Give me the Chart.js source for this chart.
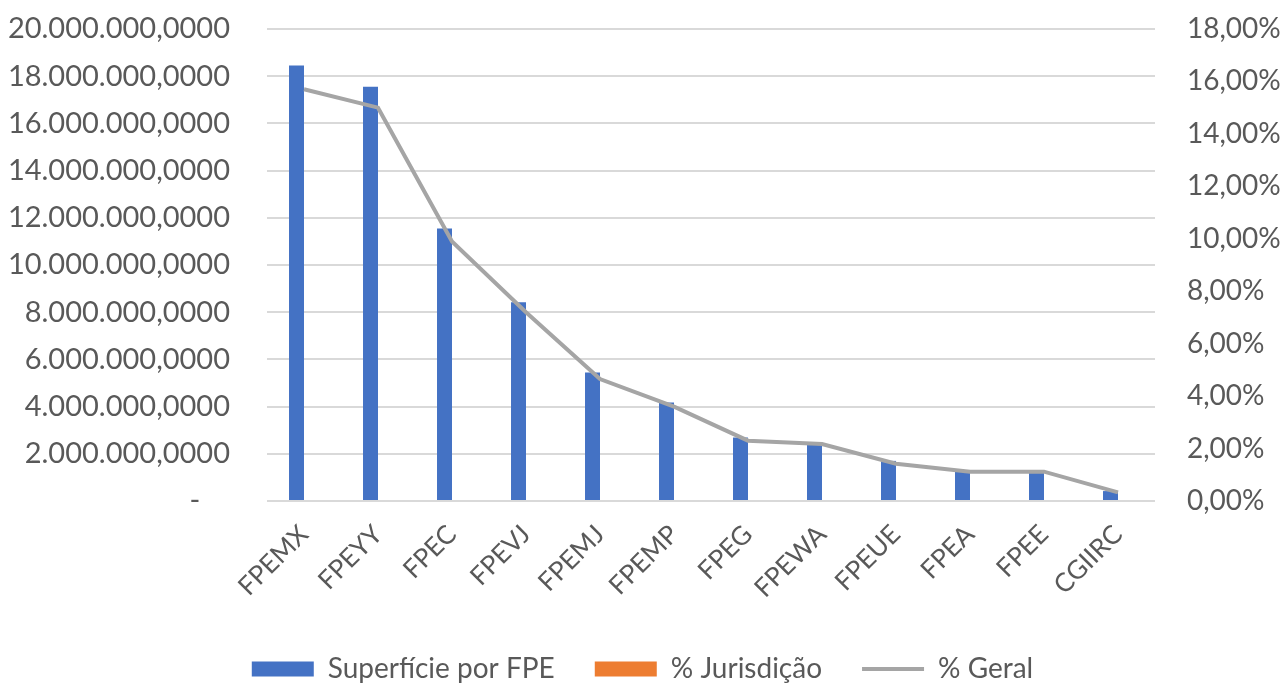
<!DOCTYPE html>
<html>
<head>
<meta charset="utf-8">
<script src="https://cdn.jsdelivr.net/npm/chart.js@4/dist/chart.umd.min.js"></script>
<style>
  html, body { margin: 0; padding: 0; background: #fff; }
  #wrap { width: 1285px; height: 684px; position: relative; }
</style>
</head>
<body>
<div id="wrap"><canvas id="barChart"></canvas></div>
<script>
const categories = ["FPEMX", "FPEYY", "FPEC", "FPEVJ", "FPEMJ", "FPEMP", "FPEG", "FPEWA", "FPEUE", "FPEA", "FPEE", "CGIIRC"];
const superficie = [18450000, 17550000, 11550000, 8420000, 5450000, 4170000, 2690000, 2420000, 1700000, 1300000, 1280000, 420000];
const jurisdicao = [0, 0, 0, 0, 0, 0, 0, 0, 0, 0, 0, 0];
const geral = [15.7, 15.0, 9.9, 7.2, 4.65, 3.6, 2.3, 2.17, 1.42, 1.12, 1.12, 0.33];
const leftTicks = [0, 2000000, 4000000, 6000000, 8000000, 10000000, 12000000, 14000000, 16000000, 18000000, 20000000];
const rightTicks = [0, 2, 4, 6, 8, 10, 12, 14, 16, 18];

const tickColor = "#595959";
const gridColor = "#d9d9d9";

function fmtLeft(v) {
  if (v === 0) return "-    ";
  return Math.round(v).toString().replace(/\B(?=(\d{3})+(?!\d))/g, ".") + ",0000";
}
function fmtRight(v) {
  return v.toFixed(2).replace(".", ",") + "%";
}

// the tick padding would otherwise also push the plot down from the top
function fixY(width) {
  return (scale) => {
    scale.width = width;
    scale.paddingTop = 0;
    scale.paddingBottom = 0;
  };
}

let ctx = document.getElementById("barChart");

let barChart = new Chart(ctx, {
  type: "bar",
  data: {
    labels: categories,
    datasets: [
      {
        label: "Superfície por FPE",
        data: superficie,
        backgroundColor: "#4472c4",
        borderWidth: 0,
        yAxisID: "y",
        order: 1,
        pointStyle: "rect",
      },
      {
        label: "% Jurisdição",
        data: jurisdicao,
        backgroundColor: "#ed7d31",
        borderWidth: 0,
        yAxisID: "y",
        order: 1,
        pointStyle: "rect",
      },
      {
        type: "line",
        label: "% Geral",
        data: geral,
        borderColor: "#a5a5a5",
        backgroundColor: "#a5a5a5",
        borderWidth: 4,
        pointRadius: 0,
        tension: 0,
        yAxisID: "y1",
        order: 0,
        pointStyle: "line",
      },
    ],
  },
  options: {
    responsive: true,
    maintainAspectRatio: false,
    animation: false,
    categoryPercentage: 0.405,
    barPercentage: 1,
    layout: {
      padding: { top: 29, left: 0, right: 0, bottom: -9 },
    },
    plugins: {
      tooltip: { enabled: false },
      legend: {
        position: "bottom",
        labels: {
          color: tickColor,
          usePointStyle: true,
          pointStyleWidth: 62,
          boxHeight: 15,
          padding: 40,
          font: { family: "Lato", size: 28 },
          sort: (a, b) => a.datasetIndex - b.datasetIndex,
        },
      },
    },
    scales: {
      x: {
        grid: { display: false },
        border: { display: false },
        ticks: {
          color: tickColor,
          font: { family: "Lato", size: 26 },
          maxRotation: 45,
          minRotation: 45,
          padding: 10,
          autoSkip: false,
        },
        afterFit: (scale) => { scale.height = 114; },
      },
      y: {
        position: "left",
        min: 0,
        max: 20000000,
        grid: { color: gridColor, lineWidth: 2, drawTicks: false },
        border: { display: false },
        afterBuildTicks: (scale) => { scale.ticks = leftTicks.map((v) => ({ value: v })); },
        ticks: {
          color: tickColor,
          font: { family: "Lato", size: 29 },
          padding: 37,
          callback: (v) => fmtLeft(v),
        },
        afterFit: fixY(267),
      },
      y1: {
        position: "right",
        min: 0,
        max: 18,
        grid: { display: false, drawTicks: false },
        border: { display: false },
        afterBuildTicks: (scale) => { scale.ticks = rightTicks.map((v) => ({ value: v })); },
        ticks: {
          color: tickColor,
          font: { family: "Lato", size: 28 },
          padding: 32,
          callback: (v) => fmtRight(v),
        },
        afterFit: fixY(130),
      },
    },
  },
});
</script>
</body>
</html>
